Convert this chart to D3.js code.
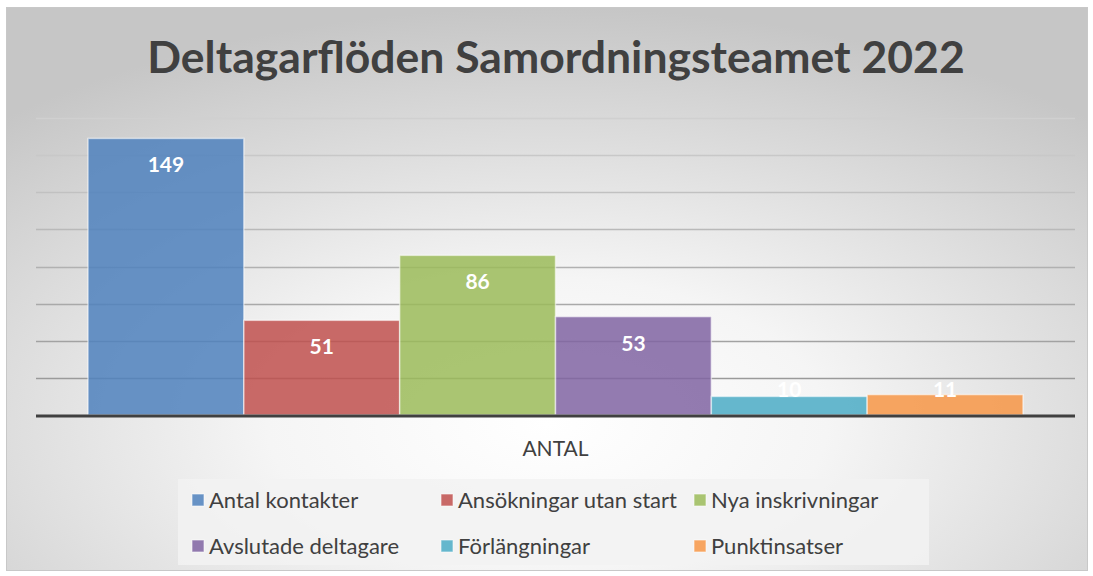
<!DOCTYPE html>
<html>
<head>
<meta charset="utf-8">
<script src="https://cdn.jsdelivr.net/npm/d3@7"></script>
<style>
  body { margin: 0; background: #fff; }
  text { font-family: Lato, "Open Sans", sans-serif; }
</style>
</head>
<body>
<div id="main"></div>
<script>
const width = 1093;
const height = 576;

const title = 'Deltagarflöden Samordningsteamet 2022';
const category = 'ANTAL';
const series = ['Antal kontakter', 'Ansökningar utan start', 'Nya inskrivningar',
                'Avslutade deltagare', 'Förlängningar', 'Punktinsatser'];
const values = [149, 51, 86, 53, 10, 11];
const colors = ['#4f81bd', '#c0504d', '#9bbb59', '#8064a2', '#4bacc6', '#f79646'];
const yTicks = [0, 20, 40, 60, 80, 100, 120, 140, 160];

const svg = d3.select('#main')
    .append('svg')
    .attr('width', width)
    .attr('height', height);

const defs = svg.append('defs');
const grad = defs.append('radialGradient')
    .attr('id', 'bg')
    .attr('cx', '50%').attr('cy', '74%')
    .attr('r', '74%');
grad.append('stop').attr('offset', '0%').attr('stop-color', '#ffffff');
grad.append('stop').attr('offset', '35%').attr('stop-color', '#f5f5f5');
grad.append('stop').attr('offset', '100%').attr('stop-color', '#c6c6c6');

// chart area
svg.append('rect')
    .attr('x', 6.5).attr('y', 7.5)
    .attr('width', 1081).attr('height', 563)
    .attr('fill', 'url(#bg)')
    .attr('stroke', '#c8c8c8');

svg.append('text')
    .attr('x', 556).attr('y', 73)
    .attr('text-anchor', 'middle')
    .attr('font-size', 44.5)
    .attr('font-weight', 'bold')
    .attr('fill', '#404040')
    .text(title);

const margin = {left: 36, right: 1075, top: 118, bottom: 415};

const x0 = d3.scaleBand()
    .domain([category])
    .range([margin.left, margin.right]);

const x1 = d3.scaleBand()
    .domain(series)
    .range([x0(category) + 52, x0(category) + x0.bandwidth() - 52]);

const y = d3.scaleLinear()
    .domain([0, 160])
    .range([margin.bottom, margin.top]);

// gridlines
svg.append('g')
    .selectAll('line')
    .data(yTicks.slice(1))
    .join('line')
    .attr('x1', margin.left).attr('x2', margin.right)
    .attr('y1', d => Math.round(y(d)) + 0.5)
    .attr('y2', d => Math.round(y(d)) + 0.5)
    .attr('stroke', (d, i) => d3.interpolateRgb('#9a9a9a', '#d0d0d0')(i / 7))
    .attr('stroke-width', 1.5);

// bars
svg.append('g')
    .selectAll('rect')
    .data(series)
    .join('rect')
    .attr('x', d => x1(d))
    .attr('y', (d, i) => y(values[i]))
    .attr('width', x1.bandwidth())
    .attr('height', (d, i) => y(0) - y(values[i]))
    .attr('fill', (d, i) => colors[i])
    .attr('fill-opacity', 0.85)
    .attr('stroke', 'rgba(255,255,255,0.55)')
    .attr('stroke-width', 1.5);

// baseline
svg.append('line')
    .attr('x1', margin.left).attr('x2', margin.right)
    .attr('y1', y(0) + 1).attr('y2', y(0) + 1)
    .attr('stroke', '#404040')
    .attr('stroke-width', 3);

// data labels
svg.append('g')
    .selectAll('text')
    .data(series)
    .join('text')
    .attr('x', d => x1(d) + x1.bandwidth() / 2)
    .attr('y', (d, i) => Math.min(y(values[i]) + 34, y(0) - 18))
    .attr('text-anchor', 'middle')
    .attr('font-size', 21)
    .attr('font-weight', 'bold')
    .attr('fill', '#ffffff')
    .text((d, i) => values[i]);

svg.append('text')
    .attr('x', x0(category) + x0.bandwidth() / 2)
    .attr('y', 456)
    .attr('text-anchor', 'middle')
    .attr('font-size', 21)
    .attr('fill', '#404040')
    .text(category);

// legend
const legend = svg.append('g');
legend.append('rect')
    .attr('x', 178).attr('y', 479)
    .attr('width', 751).attr('height', 86)
    .attr('fill', '#f2f2f2')
    .attr('fill-opacity', 0.85);

const colX = [192, 441, 694];
const rowY = [500, 546];
const item = legend.selectAll('g')
    .data(series)
    .join('g')
    .attr('transform', (d, i) => `translate(${colX[i % 3]},${rowY[Math.floor(i / 3)]})`);
item.append('rect')
    .attr('x', 0).attr('y', -6)
    .attr('width', 12).attr('height', 12)
    .attr('fill', (d, i) => colors[i])
    .attr('fill-opacity', 0.85)
    .attr('stroke', 'rgba(255,255,255,0.6)');
item.append('text')
    .attr('x', 17).attr('y', 7.5)
    .attr('font-size', 22)
    .attr('fill', '#404040')
    .text(d => d);
</script>
</body>
</html>
